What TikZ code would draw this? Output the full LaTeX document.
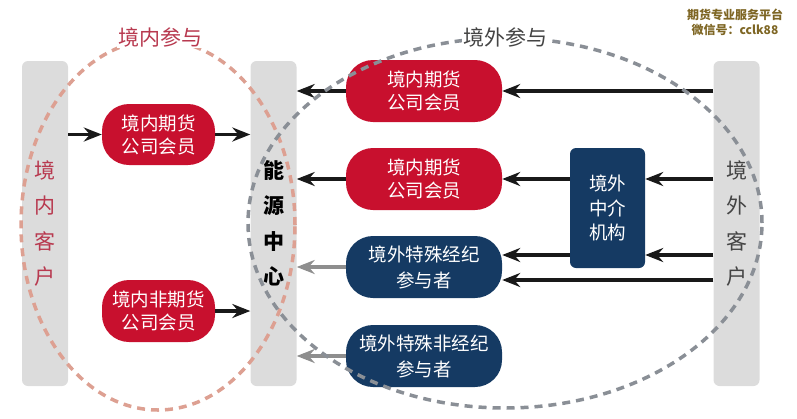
\documentclass[tikz,border=0pt]{standalone}
\usepackage{fontspec}
\newfontfamily\cjk{Noto Sans CJK SC}
\usetikzlibrary{arrows.meta}
\definecolor{barg}{HTML}{DCDCDC}
\definecolor{cred}{HTML}{C8102E}
\definecolor{cblue}{HTML}{153A63}
\definecolor{ltxt}{HTML}{B8394F}
\definecolor{rtxt}{HTML}{444444}
\definecolor{rdash}{HTML}{DDA092}
\definecolor{gdash}{HTML}{8A8F96}
\definecolor{garr}{HTML}{8E8E8E}
\definecolor{wm}{HTML}{7E6624}
\begin{document}
\begin{tikzpicture}[x=1pt,y=-1pt,
  barbox/.style={fill=barg, rounded corners=6pt, minimum width=46pt, minimum height=325pt, inner sep=0pt, align=center, font=\cjk\fontsize{21}{35.5}\selectfont},
  pill/.style={rounded corners=27pt, text=white, minimum width=156pt, minimum height=62pt, inner sep=0pt, align=center, font=\cjk\fontsize{18.5}{23}\selectfont},
  redpill/.style={pill, fill=cred},
  bluepill/.style={pill, fill=cblue, font=\cjk\fontsize{18.5}{26}\selectfont},
  arr/.style={line width=3.4pt, draw=black!90, -{Stealth[length=18pt, width=14pt, inset=6pt]}},
  garrow/.style={arr, draw=garr},
  dashcirc/.style={line width=3.5pt, dash pattern=on 8pt off 6pt},
  plabel/.style={fill=white, inner sep=1.5pt, font=\cjk\fontsize{21}{24}\selectfont}]
\useasboundingbox (0,0) rectangle (797,418);

% bars
\node[barbox, text=ltxt] (L) at (45,223.5) {境\\内\\客\\户};
\node[barbox, text=black, font=\cjk\bfseries\fontsize{21}{35.5}\selectfont] (C) at (273.5,223.5) {能\\源\\中\\心};
\node[barbox, text=rtxt] (R) at (736.5,223.5) {境\\外\\客\\户};

% left pills
\node[redpill, minimum width=113pt, minimum height=61pt] (lf1) at (158.5,134.5) {境内期货\\公司会员};
\node[redpill, minimum width=113pt, minimum height=62pt] (lf2) at (158.5,311) {境内非期货\\公司会员};

% right pills
\node[redpill] (rf1) at (424,91) {境内期货\\公司会员};
\node[redpill] (rf2) at (424,179) {境内期货\\公司会员};
\node[bluepill] (bf1) at (424,267) {境外特殊经纪\\参与者};
\node[bluepill] (bf2) at (424,356) {境外特殊非经纪\\参与者};

% intermediary
\node[fill=cblue, rounded corners=6pt, minimum width=75pt, minimum height=120pt, inner sep=0pt, align=center, text=white, font=\cjk\fontsize{18.5}{24.5}\selectfont] (M) at (607.5,208) {境外\\中介\\机构};

% helper coordinates
\coordinate (yb) at (0,255);
\coordinate (yc) at (0,280);

% arrows
\draw[arr] (L.east |- lf1.west) -- (lf1.west);
\draw[arr] (lf1.east) -- (C.west |- lf1.east);
\draw[arr] (lf2.east) -- (C.west |- lf2.east);
\draw[arr] (R.west |- rf1.east) -- (rf1.east);
\draw[arr] (rf1.west) -- (C.east |- rf1.west);
\draw[arr] (R.west |- rf2.east) -- (M.east |- rf2.east);
\draw[arr] (M.west |- rf2.east) -- (rf2.east);
\draw[arr] (rf2.west) -- (C.east |- rf2.west);
\draw[arr] (R.west |- yb) -- (M.east |- yb);
\draw[arr] (M.west |- yb) -- (bf1.east |- yb);
\draw[arr] (R.west |- yc) -- (bf1.east |- yc);
\draw[garrow] (bf1.west) -- (C.east |- bf1.west);
\draw[garrow] (bf2.west) -- (C.east |- bf2.west);

% dashed ellipses
\draw[dashcirc, draw=rdash] (158,225) ellipse [x radius=137pt, y radius=185pt];
\draw[dashcirc, draw=gdash] (505,223) ellipse [x radius=257pt, y radius=185pt];
\node[plabel, text=ltxt] (tin) at (160,37) {境内参与};
\node[plabel, text=rtxt] (tout) at (505,37) {境外参与};

% watermark
\node[align=center, text=wm, inner sep=0pt, font=\cjk\bfseries\fontsize{12}{15}\selectfont] (wmk) at (735,22) {期货专业服务平台\\微信号：cclk88};
\end{tikzpicture}
\end{document}
